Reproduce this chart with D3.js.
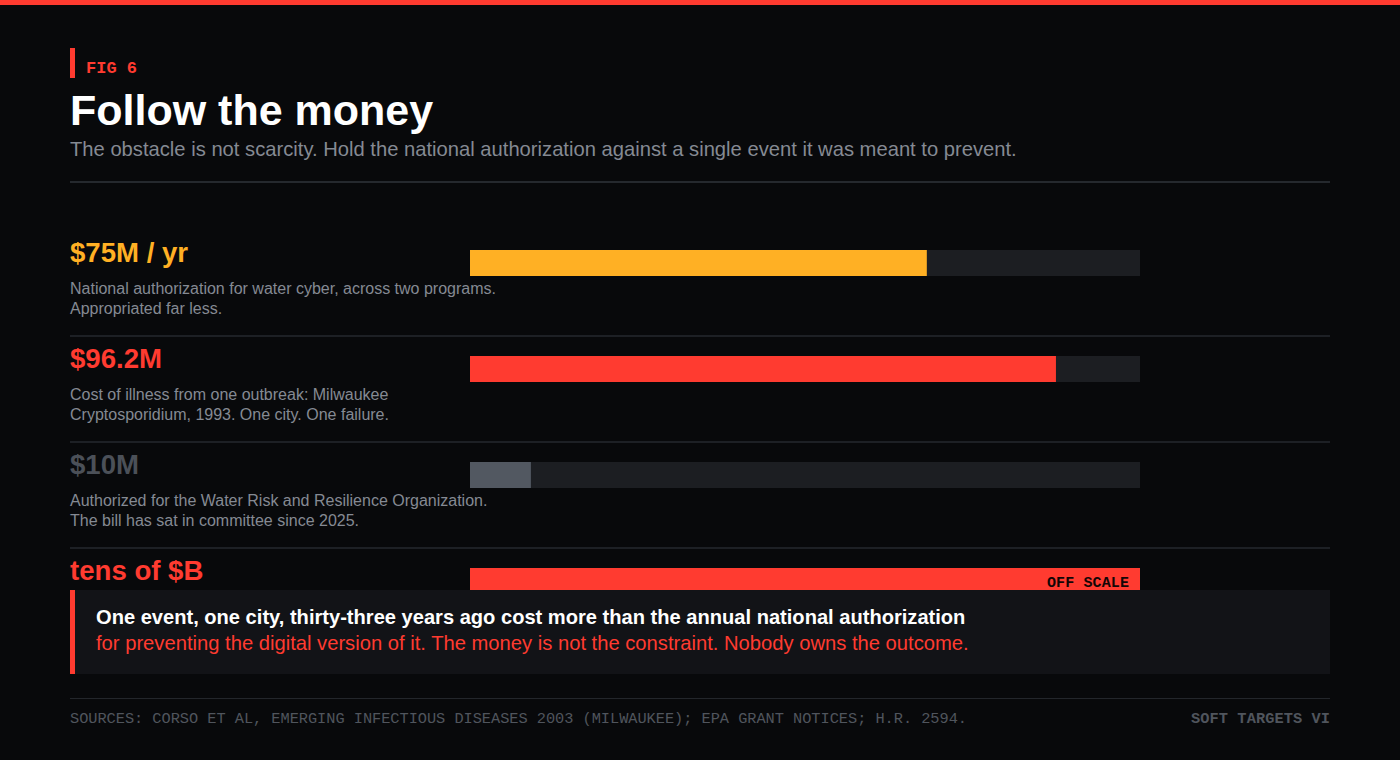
<!DOCTYPE html>
<html>
<head>
<meta charset="utf-8">
<script src="https://cdn.jsdelivr.net/npm/d3@7"></script>
<style>
  html, body { margin: 0; padding: 0; background: #08090b; }
  svg { display: block; }
</style>
</head>
<body>
<svg id="chart" width="1400" height="760"></svg>
<script>
// ---------------- data ----------------
var rowLabels = ["$75M / yr", "$96.2M", "$10M", "tens of $B"];
var rowValues = [75, 96.2, 10, null];          // null = off scale
var rowNotes = [
  ["National authorization for water cyber, across two programs.", "Appropriated far less."],
  ["Cost of illness from one outbreak: Milwaukee", "Cryptosporidium, 1993. One city. One failure."],
  ["Authorized for the Water Risk and Resilience Organization.", "The bill has sat in committee since 2025."],
  []
];
var scaleMax = 110;
var offScaleText = "OFF SCALE";

var figLabel = "FIG 6";
var title = "Follow the money";
var subtitle = "The obstacle is not scarcity. Hold the national authorization against a single event it was meant to prevent.";
var calloutBold = "One event, one city, thirty-three years ago cost more than the annual national authorization";
var calloutRed = "for preventing the digital version of it. The money is not the constraint. Nobody owns the outcome.";
var sources = "SOURCES: CORSO ET AL, EMERGING INFECTIOUS DISEASES 2003 (MILWAUKEE); EPA GRANT NOTICES; H.R. 2594.";
var series = "SOFT TARGETS VI";

// ---------------- style ----------------
var RED = "#ff3b30", AMBER = "#ffb024", SLATE = "#525861";
var rowColors = [AMBER, RED, SLATE, RED];
var labelColors = [AMBER, RED, "#4b5058", RED];
var SANS = "'Liberation Sans', Arial, sans-serif";
var MONO = "'Liberation Mono', monospace";

var svg = d3.select("#chart");
var W = 1400, left = 70, right = 1330;

svg.append("rect").attr("width", W).attr("height", 760).attr("fill", "#08090b");
svg.append("rect").attr("width", W).attr("height", 5).attr("fill", RED);

//================= header
svg.append("rect").attr("x", left).attr("y", 48).attr("width", 5).attr("height", 30).attr("fill", RED);
svg.append("text").attr("x", 86).attr("y", 73)
   .style("font-family", MONO).style("font-size", "17px").style("font-weight", "bold")
   .attr("fill", RED).text(figLabel);

svg.append("text").attr("x", left).attr("y", 125)
   .style("font-family", SANS).style("font-size", "43px").style("font-weight", "bold")
   .attr("fill", "#ffffff").text(title);

svg.append("text").attr("x", left).attr("y", 156)
   .style("font-family", SANS).style("font-size", "20.2px")
   .attr("fill", "#858a93").text(subtitle);

svg.append("rect").attr("x", left).attr("y", 181).attr("width", right - left).attr("height", 2).attr("fill", "#25292e");

//================= scales
var x = d3.scaleLinear().domain([0, scaleMax]).range([470, 1140]);
var rowY = d3.scaleLinear().domain([0, 1]).range([230, 336]);   // row top, 106px pitch

var rows = svg.append("g").attr("class", "rows")
  .selectAll("g").data(rowLabels).join("g")
  .attr("transform", function(d, i) { return "translate(0," + rowY(i) + ")"; });

// separators between rows
rows.filter(function(d, i) { return i > 0; })
  .append("rect").attr("x", left).attr("y", -1).attr("width", right - left).attr("height", 2)
  .attr("fill", "#1d2025");

rows.append("text").attr("x", left).attr("y", 32)
  .style("font-family", SANS).style("font-size", "27.6px").style("font-weight", "bold")
  .attr("fill", function(d, i) { return labelColors[i]; })
  .text(function(d) { return d; });

rows.each(function(d, i) {
  var g = d3.select(this);
  rowNotes[i].forEach(function(line, j) {
    g.append("text").attr("x", left).attr("y", 64 + j * 19.5)
      .style("font-family", SANS).style("font-size", "16px")
      .attr("fill", "#858a93").text(line);
  });
});

// track
rows.append("rect").attr("x", x(0)).attr("y", 20).attr("width", x(scaleMax) - x(0)).attr("height", 26)
  .attr("fill", "#1c1e22");

// value bar
rows.append("rect").attr("x", x(0)).attr("y", 20)
  .attr("width", function(d, i) {
    var v = rowValues[i] === null ? scaleMax : Math.min(rowValues[i], scaleMax);
    return x(v) - x(0);
  })
  .attr("height", 26)
  .attr("fill", function(d, i) { return rowColors[i]; });

rows.filter(function(d, i) { return rowValues[i] === null; })
  .append("text").attr("x", x(scaleMax) - 11).attr("y", 39).attr("text-anchor", "end")
  .style("font-family", MONO).style("font-size", "15px").style("font-weight", "bold")
  .attr("textLength", 82).attr("lengthAdjust", "spacing")
  .attr("fill", "#140606").text(offScaleText);

//================= callout
svg.append("rect").attr("x", left).attr("y", 590).attr("width", right - left).attr("height", 84).attr("fill", "#121317");
svg.append("rect").attr("x", left).attr("y", 590).attr("width", 5).attr("height", 84).attr("fill", RED);
svg.append("text").attr("x", 96).attr("y", 624)
   .style("font-family", SANS).style("font-size", "20.1px").style("font-weight", "bold")
   .attr("fill", "#ffffff").text(calloutBold);
svg.append("text").attr("x", 96).attr("y", 650)
   .style("font-family", SANS).style("font-size", "20.2px")
   .attr("fill", RED).text(calloutRed);

//================= footer
svg.append("rect").attr("x", left).attr("y", 698).attr("width", right - left).attr("height", 1).attr("fill", "#23262b");
svg.append("text").attr("x", left).attr("y", 723)
   .style("font-family", MONO).style("font-size", "15.3px")
   .attr("textLength", 897).attr("lengthAdjust", "spacing")
   .attr("fill", "#50555d").text(sources);
svg.append("text").attr("x", right).attr("y", 723).attr("text-anchor", "end")
   .style("font-family", MONO).style("font-size", "15.3px").style("font-weight", "bold")
   .attr("textLength", 139).attr("lengthAdjust", "spacing")
   .attr("fill", "#50555d").text(series);
</script>
</body>
</html>
